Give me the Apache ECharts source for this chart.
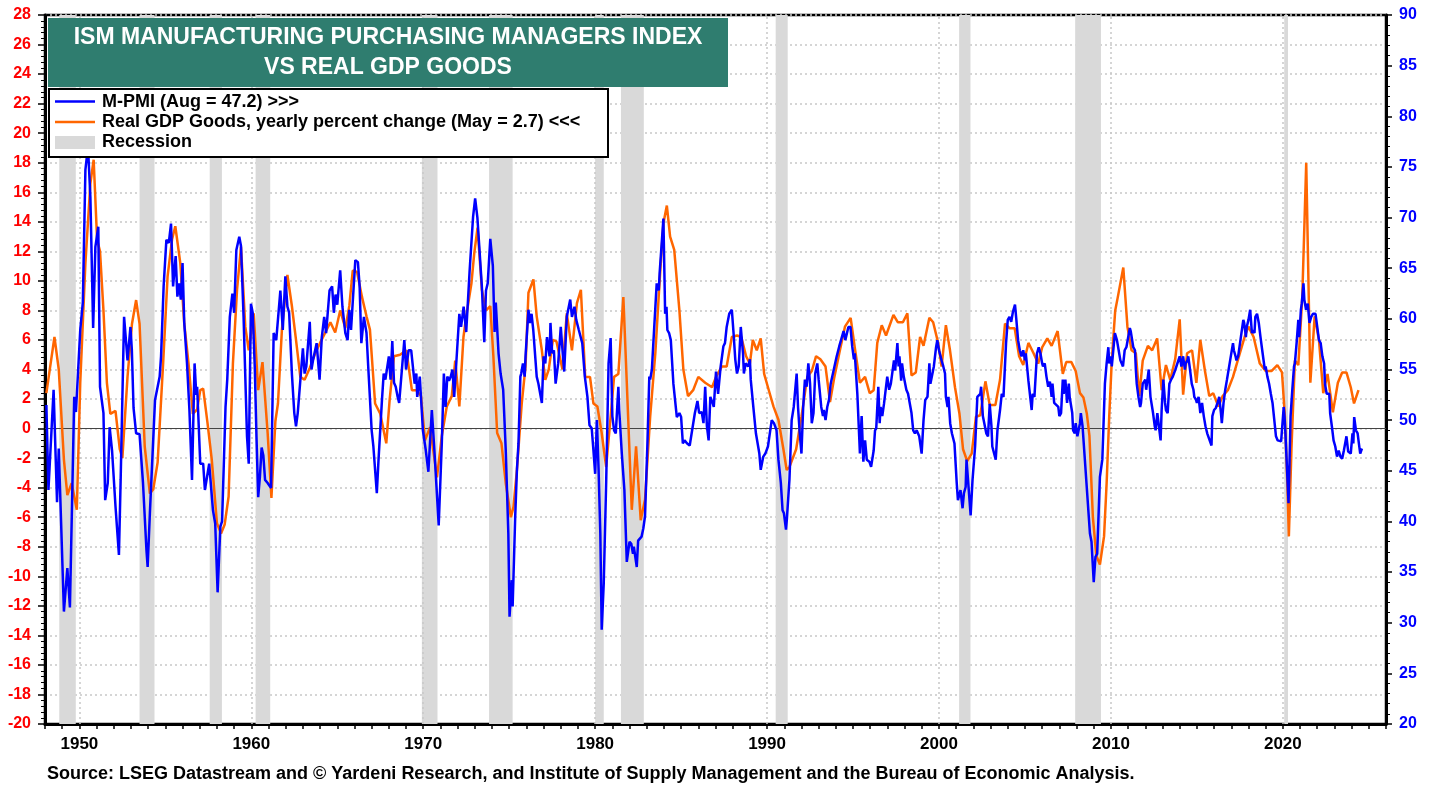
<!DOCTYPE html>
<html>
<head>
<meta charset="utf-8">
<script src="https://cdn.jsdelivr.net/npm/echarts@6/dist/echarts.min.js"></script>
<style>
html,body{margin:0;padding:0;background:#fff;}
#chart{width:1438px;height:787px;}
</style>
</head>
<body>
<div id="chart"></div>
<script>
const FONT = 'Liberation Sans, Arial, sans-serif';

const titleLines = ['ISM MANUFACTURING PURCHASING MANAGERS INDEX', 'VS REAL GDP GOODS'];
const legendLabels = ['M-PMI (Aug = 47.2) >>>', 'Real GDP Goods, yearly percent change (May = 2.7) <<<', 'Recession'];
const sourceText = 'Source: LSEG Datastream and \u00A9 Yardeni Research, and Institute of Supply Management and the Bureau of Economic Analysis.';

const decadeLines = [1950, 1960, 1970, 1980, 1990, 2000, 2010, 2020];

const recessions = [
  [1948.83, 1949.79], [1953.5, 1954.37], [1957.58, 1958.29], [1960.25, 1961.1],
  [1969.92, 1970.83], [1973.83, 1975.2], [1980.0, 1980.5], [1981.5, 1982.83],
  [1990.5, 1991.2], [2001.17, 2001.83], [2007.92, 2009.42], [2020.08, 2020.3]
];

// ISM Manufacturing PMI (right axis) [year, index]
const pmiData = [
[1948.08,51.5],[1948.2,43.1],[1948.5,53],[1948.7,41.9],[1948.8,47.2],[1949.1,31.1],[1949.3,35.4],[1949.45,31.5],
[1949.7,52.3],[1949.8,50.8],[1949.9,50.8],[1950.05,58.9],[1950.2,61.6],[1950.35,74.7],[1950.5,77],[1950.64,72],
[1950.8,59.1],[1950.93,67.1],[1951.1,69.1],[1951.2,53.3],[1951.4,50.7],[1951.5,42.1],[1951.65,43.8],[1951.76,49.3],
[1951.9,47.0],[1952.1,41.5],[1952.3,36.7],[1952.4,44.1],[1952.6,60.2],[1952.8,55.9],[1952.97,59.2],[1953.05,57.0],
[1953.15,51.2],[1953.3,48.7],[1953.5,48.6],[1953.7,43.8],[1953.9,37.2],[1953.97,35.5],[1954.1,40.8],[1954.4,52.0],
[1954.67,54.3],[1954.75,56.3],[1954.9,63.2],[1955.06,67.8],[1955.2,67.5],[1955.33,69.4],[1955.45,63.2],[1955.6,66.2],
[1955.7,62.2],[1955.8,63.5],[1955.9,61.9],[1956.0,65.5],[1956.1,59.6],[1956.26,55.6],[1956.4,51.0],[1956.55,44.1],
[1956.7,55.6],[1956.8,52.5],[1956.85,53.3],[1957.03,45.7],[1957.2,45.7],[1957.3,43.1],[1957.55,45.7],[1957.77,41.1],
[1957.9,39.8],[1958.04,33.0],[1958.2,39.5],[1958.3,40.0],[1958.5,51.3],[1958.6,54.0],[1958.75,60.2],[1958.9,62.5],
[1959.0,60.6],[1959.13,66.8],[1959.3,68.1],[1959.4,67.2],[1959.55,60.2],[1959.75,48.4],[1959.85,45.7],[1959.98,61.5],
[1960.08,60.6],[1960.2,55.3],[1960.3,48.4],[1960.4,42.4],[1960.5,44.4],[1960.6,47.3],[1960.7,46.5],[1960.8,44.1],
[1960.95,43.8],[1961.15,43.3],[1961.3,58.6],[1961.45,57.9],[1961.69,62.8],[1961.83,58.9],[1961.98,64.2],[1962.1,61.2],
[1962.2,60.6],[1962.36,54.6],[1962.5,50.7],[1962.6,49.4],[1962.7,50.7],[1963.0,57.1],[1963.1,54.6],[1963.2,55.3],
[1963.4,59.7],[1963.5,55.0],[1963.6,56.0],[1963.8,57.6],[1963.97,54.0],[1964.1,58.2],[1964.24,60.2],[1964.35,58.6],
[1964.55,62.8],[1964.7,63.2],[1964.8,60.6],[1964.9,62.4],[1965.0,61.4],[1965.17,64.8],[1965.3,61.2],[1965.47,58.6],
[1965.6,57.9],[1965.7,60.9],[1965.8,58.9],[1966.05,65.8],[1966.2,65.6],[1966.3,63.2],[1966.4,57.6],[1966.55,60.2],
[1966.7,58.6],[1966.8,55.3],[1967.0,49.0],[1967.1,47.4],[1967.3,42.8],[1967.4,46.1],[1967.6,52.0],[1967.7,54.6],
[1967.8,54.0],[1968.0,56.3],[1968.1,54.0],[1968.2,57.8],[1968.3,53.7],[1968.4,53.3],[1968.5,52.4],[1968.6,51.7],
[1968.9,57.9],[1969.0,55.0],[1969.15,56.9],[1969.3,56.9],[1969.5,53.6],[1969.6,54.6],[1969.65,52.3],[1969.8,54.3],
[1969.98,49.0],[1970.15,47.0],[1970.3,44.9],[1970.5,51.0],[1970.65,47.0],[1970.9,39.6],[1971.08,47.7],[1971.2,54.6],
[1971.3,51.3],[1971.4,54.3],[1971.5,53.9],[1971.6,54.3],[1971.7,55.0],[1971.8,52.3],[1971.9,55.0],[1972.1,60.5],
[1972.2,59.2],[1972.35,61.2],[1972.5,58.7],[1972.7,64.8],[1972.9,70.1],[1973.02,71.9],[1973.15,70.0],[1973.25,69.9],
[1973.41,63.2],[1973.55,57.7],[1973.65,62.8],[1973.75,63.5],[1973.9,67.9],[1974.05,65.2],[1974.15,58.7],[1974.22,61.6],
[1974.38,56.6],[1974.5,54.6],[1974.65,53.0],[1974.8,47.0],[1974.95,38.8],[1975.02,30.6],[1975.15,34.2],[1975.2,31.6],
[1975.35,40.5],[1975.45,45.1],[1975.54,47.7],[1975.65,54.3],[1975.7,54.6],[1975.8,55.6],[1975.9,54.3],[1975.95,56.3],
[1976.12,60.9],[1976.2,59.6],[1976.3,60.5],[1976.4,58.9],[1976.6,54.3],[1976.7,53.6],[1976.9,51.7],[1977.0,56.3],
[1977.1,55.6],[1977.2,58.2],[1977.35,56.3],[1977.4,59.6],[1977.5,56.6],[1977.6,56.9],[1977.7,53.6],[1977.85,55.6],
[1978.0,59.2],[1978.1,56.9],[1978.2,54.8],[1978.35,60.2],[1978.55,61.9],[1978.65,60.2],[1978.8,61.2],[1978.9,59.9],
[1979.05,58.9],[1979.25,57.6],[1979.4,54.3],[1979.55,52.3],[1979.67,49.5],[1979.8,49.2],[1979.9,47.0],[1980.0,44.7],
[1980.1,50.0],[1980.2,45.1],[1980.3,38.8],[1980.38,29.3],[1980.5,33.9],[1980.64,43.8],[1980.78,55.6],[1980.9,58.1],
[1981.0,50.4],[1981.1,49.0],[1981.2,48.7],[1981.35,53.3],[1981.4,51.0],[1981.55,46.7],[1981.7,43.1],[1981.84,36.0],
[1982.0,38.0],[1982.1,37.8],[1982.2,36.8],[1982.25,37.5],[1982.42,35.5],[1982.5,38.1],[1982.7,38.5],[1982.8,39.3],
[1982.9,40.5],[1983.04,47.7],[1983.15,54.3],[1983.2,54.0],[1983.3,55.0],[1983.45,59.6],[1983.58,63.5],[1983.7,62.8],
[1983.75,64.5],[1983.97,69.9],[1984.07,60.5],[1984.15,61.2],[1984.2,58.9],[1984.3,58.6],[1984.4,57.9],[1984.55,53.6],
[1984.75,50.3],[1984.9,50.7],[1985.0,50.3],[1985.1,47.7],[1985.2,48.0],[1985.35,47.7],[1985.5,47.5],[1985.8,50.7],
[1985.95,51.9],[1986.05,50.7],[1986.2,50.8],[1986.3,49.7],[1986.4,53.3],[1986.5,49.4],[1986.6,48.0],[1986.7,52.3],
[1986.85,51.6],[1986.9,51.3],[1987.03,54.8],[1987.15,52.6],[1987.3,55.3],[1987.46,57.3],[1987.55,57.6],[1987.65,59.2],
[1987.8,60.5],[1987.95,60.9],[1988.05,58.6],[1988.15,56.0],[1988.25,54.6],[1988.35,55.3],[1988.47,59.2],[1988.6,56.6],
[1988.65,54.6],[1988.75,55.6],[1988.9,55.3],[1989.0,56.0],[1989.05,54.0],[1989.2,51.3],[1989.35,48.7],[1989.55,46.7],
[1989.63,45.1],[1989.78,46.4],[1989.9,46.7],[1990.05,47.4],[1990.27,50.0],[1990.4,49.7],[1990.55,49.0],[1990.66,46.1],
[1990.8,43.8],[1990.9,41.1],[1990.98,40.8],[1991.1,39.2],[1991.15,40.2],[1991.3,44.1],[1991.43,50.0],[1991.55,51.3],
[1991.72,54.6],[1991.8,51.3],[1991.9,48.7],[1992.0,46.7],[1992.1,51.3],[1992.2,54.0],[1992.3,53.3],[1992.4,55.6],
[1992.5,53.6],[1992.6,49.7],[1992.7,50.7],[1992.8,54.6],[1992.92,55.6],[1993.0,54.0],[1993.15,51.3],[1993.25,50.4],
[1993.3,51.0],[1993.4,50.0],[1993.5,51.3],[1993.6,52.0],[1993.7,53.6],[1994.05,56.3],[1994.2,57.3],[1994.3,57.9],
[1994.45,58.8],[1994.55,57.9],[1994.73,59.2],[1994.85,59.2],[1994.95,57.3],[1995.05,56.0],[1995.1,56.6],[1995.25,52.6],
[1995.4,46.7],[1995.5,50.4],[1995.6,45.9],[1995.7,48.0],[1995.8,46.1],[1995.95,45.9],[1996.05,45.4],[1996.2,47.0],
[1996.28,49.0],[1996.35,49.2],[1996.47,53.3],[1996.55,49.7],[1996.6,51.3],[1996.7,50.4],[1996.8,51.6],[1996.99,54.3],
[1997.1,53.0],[1997.2,53.6],[1997.38,55.9],[1997.45,54.9],[1997.58,57.6],[1997.65,55.3],[1997.7,56.3],[1997.8,53.9],
[1997.85,55.6],[1997.95,54.3],[1998.1,53.0],[1998.2,52.6],[1998.4,50.7],[1998.5,49.0],[1998.6,48.7],[1998.7,49.0],
[1998.85,48.4],[1998.99,46.7],[1999.1,50.0],[1999.2,52.0],[1999.33,52.3],[1999.44,55.6],[1999.5,53.6],[1999.6,53.6],
[1999.7,55.3],[1999.83,57.2],[1999.9,57.9],[2000.0,56.9],[2000.15,55.9],[2000.25,55.3],[2000.35,54.6],[2000.4,52.3],
[2000.5,51.3],[2000.55,52.3],[2000.65,49.7],[2000.75,48.7],[2000.9,47.7],[2001.03,43.8],[2001.1,42.1],[2001.25,43.1],
[2001.37,41.3],[2001.45,42.8],[2001.55,43.4],[2001.6,46.1],[2001.7,46.1],[2001.84,40.6],[2001.95,44.1],[2002.1,47.4],
[2002.23,52.3],[2002.4,52.6],[2002.45,53.3],[2002.55,50.4],[2002.62,50.4],[2002.75,48.7],[2002.85,48.4],[2002.95,51.6],
[2003.05,49.4],[2003.1,47.4],[2003.3,46.1],[2003.4,49.0],[2003.55,51.0],[2003.65,52.6],[2003.75,52.3],[2003.9,57.6],
[2004.0,59.9],[2004.1,60.2],[2004.2,59.7],[2004.3,60.7],[2004.42,61.4],[2004.5,59.9],[2004.6,57.9],[2004.7,56.9],
[2004.8,56.3],[2004.9,56.9],[2005.0,55.9],[2005.05,56.6],[2005.2,53.9],[2005.39,51.0],[2005.45,52.6],[2005.55,52.3],
[2005.7,56.6],[2005.8,57.2],[2005.9,56.6],[2006.0,55.6],[2006.05,55.3],[2006.15,55.6],[2006.25,54.3],[2006.35,53.3],
[2006.45,53.8],[2006.55,52.3],[2006.6,53.6],[2006.7,51.7],[2006.94,51.3],[2007.0,50.4],[2007.1,50.7],[2007.2,54.0],
[2007.25,52.6],[2007.35,54.0],[2007.45,51.7],[2007.55,53.6],[2007.6,52.3],[2007.75,50.7],[2007.8,49.0],[2007.9,48.7],
[2007.95,49.7],[2008.05,48.4],[2008.2,49.7],[2008.25,50.7],[2008.35,49.4],[2008.78,38.8],[2008.8,38.9],[2008.87,38.0],
[2009.0,34.0],[2009.1,36.5],[2009.2,36.8],[2009.36,44.4],[2009.5,46.1],[2009.65,53.6],[2009.75,55.6],[2009.85,57.2],
[2009.9,55.6],[2010.0,56.3],[2010.05,55.3],[2010.23,58.6],[2010.35,57.9],[2010.45,56.9],[2010.55,55.9],[2010.7,55.3],
[2010.8,56.9],[2010.9,57.2],[2011.1,59.1],[2011.15,58.8],[2011.3,57.2],[2011.4,56.9],[2011.45,55.0],[2011.5,53.6],
[2011.6,52.3],[2011.7,51.3],[2011.75,51.7],[2011.85,53.6],[2012.0,54.0],[2012.05,53.0],[2012.2,55.0],[2012.3,52.3],
[2012.45,50.7],[2012.55,49.4],[2012.6,49.0],[2012.7,50.7],[2012.89,48.0],[2012.95,51.0],[2013.05,54.0],[2013.15,51.7],
[2013.2,51.0],[2013.3,50.7],[2013.4,53.6],[2013.5,54.0],[2013.6,54.3],[2013.75,55.0],[2014.0,56.3],[2014.1,55.3],
[2014.2,56.3],[2014.3,55.0],[2014.35,55.6],[2014.45,55.9],[2014.5,56.3],[2014.6,55.0],[2014.7,53.6],[2014.8,53.0],
[2014.85,52.3],[2014.95,52.0],[2015.0,51.7],[2015.1,52.3],[2015.2,50.7],[2015.3,51.7],[2015.4,50.4],[2015.5,49.4],
[2015.6,48.7],[2015.85,47.5],[2015.9,50.4],[2016.0,51.0],[2016.1,51.2],[2016.2,51.7],[2016.3,52.3],[2016.4,50.7],
[2016.45,49.7],[2016.55,51.7],[2016.65,53.0],[2016.75,54.0],[2017.1,57.6],[2017.15,56.9],[2017.25,56.3],[2017.3,55.9],
[2017.4,56.3],[2017.45,56.3],[2017.7,59.9],[2017.75,59.6],[2017.85,58.2],[2017.9,59.2],[2018.0,59.9],[2018.1,60.9],
[2018.2,58.6],[2018.25,58.9],[2018.35,58.6],[2018.4,60.2],[2018.5,60.5],[2018.6,59.6],[2018.7,58.2],[2018.8,56.9],
[2018.95,55.0],[2019.0,55.3],[2019.1,54.3],[2019.2,53.6],[2019.3,52.6],[2019.4,51.7],[2019.6,48.4],[2019.7,48.0],
[2019.8,48.0],[2019.9,47.9],[2020.05,51.3],[2020.1,50.3],[2020.15,48.7],[2020.33,41.8],[2020.38,45.4],[2020.45,50.4],
[2020.55,53.0],[2020.65,55.3],[2020.7,55.6],[2020.8,57.6],[2020.9,59.9],[2020.95,58.2],[2021.05,60.9],[2021.1,61.5],
[2021.2,63.5],[2021.25,61.9],[2021.35,60.9],[2021.45,61.5],[2021.55,59.6],[2021.65,60.2],[2021.75,60.5],[2021.9,60.5],
[2022.0,59.2],[2022.1,57.9],[2022.2,57.6],[2022.3,56.3],[2022.4,55.6],[2022.45,53.6],[2022.55,52.6],[2022.7,52.6],
[2022.75,50.7],[2022.85,49.4],[2022.95,48.0],[2023.05,47.4],[2023.15,46.4],[2023.25,47.0],[2023.35,46.4],[2023.45,46.2],
[2023.55,47.0],[2023.7,48.4],[2023.8,46.9],[2023.95,46.7],[2024.05,48.7],[2024.1,47.7],[2024.15,50.3],[2024.25,49.0],
[2024.35,48.7],[2024.4,48.0],[2024.5,46.7],[2024.6,47.2]
];

// Real GDP Goods, yearly % change (left axis) [year, percent]
const gdpData = [
[1948.08,2.4],[1948.55,6.2],[1948.8,4.0],[1949.1,-2.1],[1949.3,-4.5],[1949.55,-3.7],[1949.85,-5.5],[1950.05,3.1],
[1950.35,11.2],[1950.64,16.6],[1950.83,18.2],[1951.03,12.8],[1951.2,12.0],[1951.4,8.0],[1951.6,3.1],[1951.8,1.0],
[1952.1,1.2],[1952.35,-1.4],[1952.5,-2.0],[1952.8,3.5],[1953.06,7.1],[1953.3,8.7],[1953.5,7.1],[1953.8,-1.2],
[1954.1,-4.4],[1954.3,-4.1],[1954.55,-2.3],[1954.87,4.4],[1955.13,10.3],[1955.39,12.8],[1955.58,13.7],[1955.87,11.2],
[1956.1,7.1],[1956.35,4.4],[1956.6,1.0],[1956.85,1.3],[1957.03,2.6],[1957.2,2.7],[1957.45,0.4],[1957.7,-2.1],
[1958.0,-6.4],[1958.24,-7.1],[1958.45,-6.5],[1958.68,-4.6],[1958.93,4.4],[1959.17,9.4],[1959.4,12.3],[1959.65,6.9],
[1959.85,5.3],[1960.14,7.8],[1960.4,2.6],[1960.65,4.5],[1960.95,-0.3],[1961.17,-4.7],[1961.4,0.5],[1961.55,1.7],
[1961.78,6.7],[1962.1,10.4],[1962.36,8.3],[1962.6,6.0],[1962.85,3.5],[1963.1,3.3],[1963.4,4.1],[1963.72,5.1],
[1964.0,5.8],[1964.3,6.5],[1964.6,7.2],[1964.88,6.5],[1965.17,8.0],[1965.47,6.8],[1965.7,8.3],[1965.9,10.7],
[1966.15,10.6],[1966.44,8.9],[1966.7,7.6],[1966.9,6.7],[1967.2,1.7],[1967.5,1.0],[1967.85,-1.0],[1968.05,2.0],
[1968.3,4.9],[1968.65,5.0],[1969.02,5.3],[1969.34,2.6],[1969.6,2.6],[1969.87,2.2],[1970.1,-0.8],[1970.4,0.1],
[1970.8,-3.3],[1971.08,-0.5],[1971.37,1.5],[1971.66,2.2],[1971.86,4.6],[1972.1,1.5],[1972.34,6.2],[1972.5,7.6],
[1972.8,9.8],[1972.97,11.9],[1973.16,13.6],[1973.41,9.4],[1973.66,8.0],[1973.9,8.3],[1974.08,4.9],[1974.3,-0.3],
[1974.55,-1.0],[1974.8,-3.7],[1975.1,-6.0],[1975.25,-5.3],[1975.45,-2.8],[1975.73,1.7],[1975.95,4.2],[1976.12,9.2],
[1976.41,10.1],[1976.6,7.6],[1976.9,5.3],[1977.1,3.3],[1977.3,4.0],[1977.54,6.0],[1977.75,5.9],[1978.1,4.0],
[1978.35,7.8],[1978.65,5.3],[1978.94,8.5],[1979.17,9.4],[1979.42,3.5],[1979.7,3.5],[1979.9,1.7],[1980.13,1.5],
[1980.38,-0.3],[1980.64,-2.6],[1980.9,0.8],[1981.1,3.5],[1981.35,3.7],[1981.64,8.9],[1981.84,3.1],[1982.13,-5.5],
[1982.38,-1.2],[1982.65,-6.2],[1982.9,-4.8],[1983.2,0.8],[1983.5,5.1],[1983.74,9.8],[1983.97,13.9],[1984.17,15.1],
[1984.36,13.0],[1984.6,12.1],[1984.9,8.0],[1985.13,4.0],[1985.4,2.2],[1985.7,2.6],[1986.0,3.5],[1986.4,3.1],
[1986.8,2.8],[1987.03,3.5],[1987.36,4.2],[1987.65,4.2],[1987.95,6.2],[1988.25,6.3],[1988.5,6.2],[1988.78,4.9],
[1989.0,4.4],[1989.17,6.0],[1989.4,5.3],[1989.63,6.1],[1989.83,3.7],[1990.05,2.8],[1990.37,1.5],[1990.66,0.6],
[1990.95,-1.4],[1991.14,-2.8],[1991.3,-2.6],[1991.69,-1.4],[1992.0,0.8],[1992.34,3.5],[1992.6,3.9],[1992.85,4.9],
[1993.1,4.7],[1993.4,4.2],[1993.66,1.8],[1993.9,3.4],[1994.2,5.1],[1994.53,6.9],[1994.86,7.5],[1995.1,5.5],
[1995.4,3.1],[1995.7,3.5],[1995.97,2.4],[1996.2,2.6],[1996.41,5.8],[1996.67,7.0],[1996.92,6.3],[1997.35,7.7],
[1997.6,7.2],[1997.9,7.2],[1998.16,7.8],[1998.4,3.6],[1998.65,3.8],[1998.9,6.2],[1999.1,5.6],[1999.44,7.5],
[1999.66,7.2],[1999.95,5.8],[2000.15,4.2],[2000.4,7.0],[2000.64,5.3],[2000.93,2.8],[2001.19,1.0],[2001.4,-1.4],
[2001.64,-2.2],[2001.9,-1.7],[2002.15,0.8],[2002.4,0.9],[2002.7,3.2],[2002.95,1.6],[2003.28,1.6],[2003.55,3.3],
[2003.84,7.1],[2004.1,6.8],[2004.4,6.8],[2004.66,4.9],[2004.9,4.3],[2005.2,5.8],[2005.5,5.1],[2005.77,4.4],
[2006.0,5.5],[2006.3,6.1],[2006.55,5.6],[2006.9,6.6],[2007.2,3.7],[2007.4,4.5],[2007.7,4.5],[2007.95,3.9],
[2008.2,2.4],[2008.4,2.1],[2008.6,1.0],[2008.75,-0.5],[2008.95,-6.0],[2009.15,-8.6],[2009.36,-9.2],[2009.6,-7.3],
[2009.75,-3.7],[2009.9,0.8],[2010.05,4.6],[2010.25,8.0],[2010.4,8.9],[2010.72,10.9],[2010.96,6.9],[2011.2,5.3],
[2011.45,5.1],[2011.65,2.2],[2011.85,4.6],[2012.15,5.6],[2012.4,5.3],[2012.69,6.1],[2012.95,2.6],[2013.2,4.3],
[2013.45,3.3],[2013.74,4.7],[2014.0,7.4],[2014.2,2.3],[2014.43,5.1],[2014.72,5.3],[2014.97,3.1],[2015.2,6.0],
[2015.47,3.9],[2015.72,2.2],[2015.95,2.4],[2016.25,1.5],[2016.5,2.2],[2016.8,2.6],[2017.1,3.5],[2017.45,4.9],
[2017.8,6.3],[2018.0,6.9],[2018.3,6.2],[2018.66,4.4],[2019.0,3.9],[2019.35,3.9],[2019.68,4.3],[2019.95,3.8],
[2020.12,0.8],[2020.26,-3.7],[2020.35,-7.3],[2020.5,-1.4],[2020.7,4.6],[2020.9,4.3],[2021.13,8.9],[2021.36,18.0],
[2021.6,3.1],[2021.85,7.6],[2022.1,6.0],[2022.35,2.4],[2022.6,3.7],[2022.91,1.1],[2023.2,3.1],[2023.45,3.8],
[2023.7,3.8],[2023.95,2.8],[2024.14,1.7],[2024.4,2.6]
];

const chart = echarts.init(document.getElementById('chart'), null, {renderer: 'canvas'});

const gridLine = {type: [2, 3], color: '#c8c8c8', width: 1.5};

const option = {
  animation: false,
  backgroundColor: '#ffffff',
  textStyle: {fontFamily: FONT},
  grid: {left: 45, right: 52, top: 15, bottom: 63, show: true, borderColor: '#000', borderWidth: 2.5, containLabel: false},
  xAxis: {
    type: 'value', min: 1948, max: 2026, interval: 1,
    axisLine: {show: true, onZero: false, lineStyle: {color: '#000', width: 3}},
    axisTick: {show: true, length: 5, lineStyle: {color: '#000', width: 1.5}},
    axisLabel: {
      margin: 12, color: '#000', fontWeight: 'bold', fontSize: 17, fontFamily: FONT,
      formatter: v => (Math.round(v) % 10 === 0 ? String(Math.round(v)) : '')
    },
    splitLine: {show: false}
  },
  yAxis: [
    {
      type: 'value', position: 'left', min: -20, max: 28, interval: 2,
      axisLine: {show: true, onZero: false, lineStyle: {color: '#000', width: 3}},
      axisTick: {show: true, length: 7, lineStyle: {color: '#000', width: 1.5}},
      minorTick: {show: true, splitNumber: 5, length: 4, lineStyle: {color: '#000', width: 1}},
      axisLabel: {margin: 14, color: '#ff0000', fontWeight: 'bold', fontSize: 16, fontFamily: FONT},
      splitLine: {show: true, lineStyle: gridLine}
    },
    {
      type: 'value', position: 'right', min: 20, max: 90, interval: 5,
      axisLine: {show: true, onZero: false, lineStyle: {color: '#000', width: 3}},
      axisTick: {show: true, length: 6, lineStyle: {color: '#000', width: 1.5}},
      minorTick: {show: true, splitNumber: 5, length: 4, lineStyle: {color: '#000', width: 1}},
      axisLabel: {margin: 13, color: '#0000ff', fontWeight: 'bold', fontSize: 16, fontFamily: FONT},
      splitLine: {show: false}
    }
  ],
  series: [
    {
      name: legendLabels[1], type: 'line', yAxisIndex: 0, data: gdpData,
      showSymbol: false, symbol: 'none', z: 3,
      lineStyle: {color: '#ff6600', width: 2.5}, itemStyle: {color: '#ff6600'},
      markArea: {
        silent: true, z: 1, itemStyle: {color: '#d9d9d9'},
        data: recessions.map(r => [{xAxis: r[0]}, {xAxis: r[1]}])
      },
      markLine: {
        silent: true, z: 1.5, symbol: ['none', 'none'], label: {show: false},
        lineStyle: gridLine, animation: false,
        data: decadeLines.map(v => ({xAxis: v})).concat([
          {yAxis: 0, lineStyle: {type: 'solid', color: '#444', width: 1}}
        ])
      }
    },
    {
      name: legendLabels[0], type: 'line', yAxisIndex: 1, data: pmiData,
      showSymbol: false, symbol: 'none', z: 4,
      lineStyle: {color: '#0000ff', width: 2.5}, itemStyle: {color: '#0000ff'}
    }
  ],
  graphic: [
    {type: 'rect', z: 100, shape: {x: 48, y: 18, width: 680, height: 69}, style: {fill: '#2f7d6f'}},
    {type: 'text', z: 101, x: 388, y: 38, style: {text: titleLines[0], fill: '#fff', font: 'bold 23px ' + FONT, textAlign: 'center', textVerticalAlign: 'middle'}},
    {type: 'text', z: 101, x: 388, y: 68, style: {text: titleLines[1], fill: '#fff', font: 'bold 23px ' + FONT, textAlign: 'center', textVerticalAlign: 'middle'}},
    {type: 'rect', z: 100, shape: {x: 49, y: 89, width: 559, height: 68}, style: {fill: '#fff', stroke: '#000', lineWidth: 2}},
    {type: 'line', z: 101, shape: {x1: 55, y1: 101.5, x2: 95, y2: 101.5}, style: {stroke: '#0000ff', lineWidth: 2.5}},
    {type: 'line', z: 101, shape: {x1: 55, y1: 122, x2: 95, y2: 122}, style: {stroke: '#ff6600', lineWidth: 2.5}},
    {type: 'rect', z: 101, shape: {x: 55, y: 136, width: 40, height: 13}, style: {fill: '#d9d9d9'}},
    {type: 'text', z: 101, x: 102, y: 102, style: {text: legendLabels[0], fill: '#000', font: 'bold 18px ' + FONT, textVerticalAlign: 'middle'}},
    {type: 'text', z: 101, x: 102, y: 122, style: {text: legendLabels[1], fill: '#000', font: 'bold 18px ' + FONT, textVerticalAlign: 'middle'}},
    {type: 'text', z: 101, x: 102, y: 142, style: {text: legendLabels[2], fill: '#000', font: 'bold 18px ' + FONT, textVerticalAlign: 'middle'}},
    {type: 'text', z: 101, x: 47, y: 774, style: {text: sourceText, fill: '#000', font: 'bold 18px ' + FONT, textVerticalAlign: 'middle'}}
  ]
};

chart.setOption(option);
</script>
</body>
</html>
